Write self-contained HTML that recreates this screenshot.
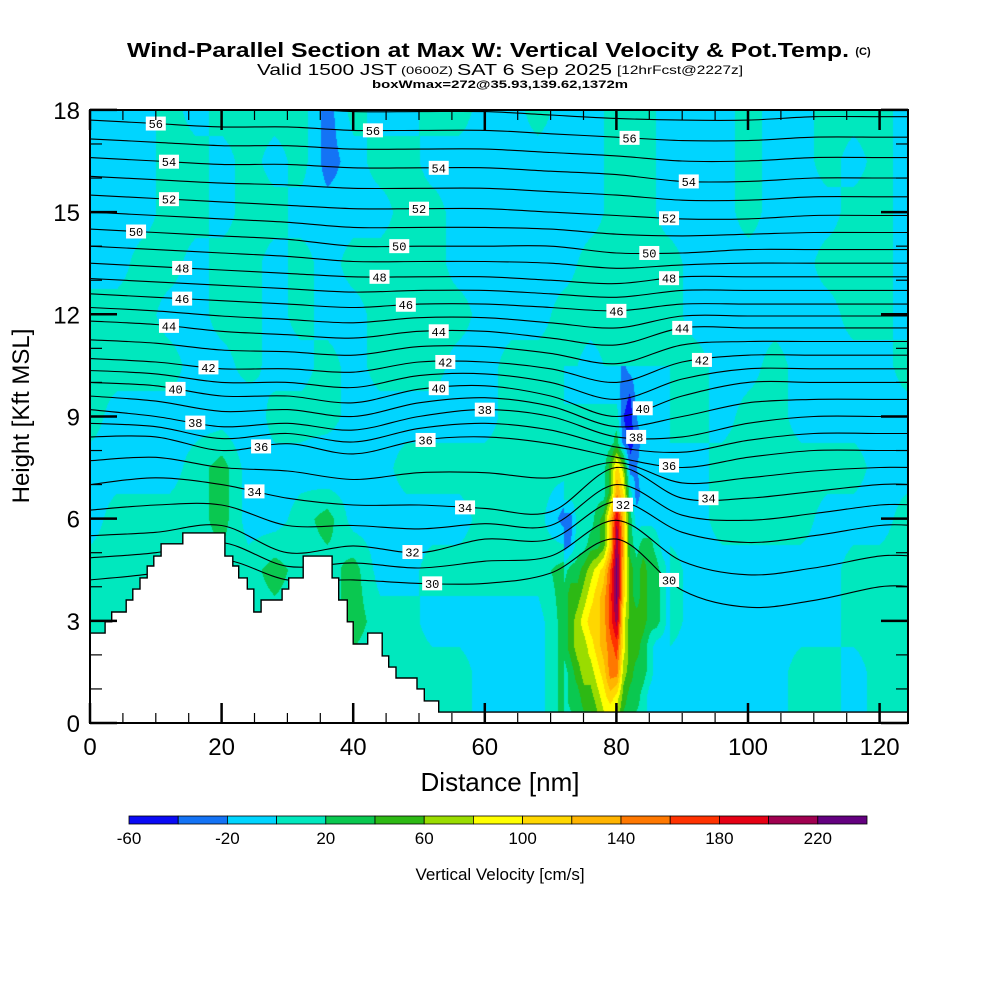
<!DOCTYPE html>
<html><head><meta charset="utf-8"><style>
html,body{margin:0;padding:0;background:#fff;}
#wrap{position:relative;width:1000px;height:1000px;overflow:hidden;font-family:"Liberation Sans",sans-serif;}
#field{position:absolute;left:90px;top:110px;}
#ov{position:absolute;left:0;top:0;}
</style></head><body>
<div id="wrap">
<canvas id="field" width="818" height="613"></canvas>
<svg id="ov" width="1000" height="1000" xmlns="http://www.w3.org/2000/svg">
<defs><clipPath id="plotclip"><rect x="90" y="110" width="818" height="613"/></clipPath></defs>
<g id="contours" clip-path="url(#plotclip)"></g>
<g id="terrain" clip-path="url(#plotclip)"></g>
<g id="clabels"></g>
<g id="ticks"></g>
<rect x="90" y="110" width="818" height="613" fill="none" stroke="#000" stroke-width="2"/>
<g id="axlabels"></g>
<text x="488" y="57" font-size="20" font-weight="bold" text-anchor="middle" textLength="722" lengthAdjust="spacingAndGlyphs">Wind-Parallel Section at Max W: Vertical Velocity &amp; Pot.Temp.</text>
<text x="863" y="55" font-size="11" font-weight="bold" text-anchor="middle">(C)</text>
<text x="257" y="75" font-size="16" textLength="140" lengthAdjust="spacingAndGlyphs">Valid 1500 JST</text>
<text x="401" y="74" font-size="11" textLength="52" lengthAdjust="spacingAndGlyphs">(0600Z)</text>
<text x="457" y="75" font-size="16" textLength="155" lengthAdjust="spacingAndGlyphs">SAT 6 Sep 2025</text>
<text x="617" y="74" font-size="12" textLength="126" lengthAdjust="spacingAndGlyphs">[12hrFcst@2227z]</text>
<text x="500" y="88" font-size="11" font-weight="bold" text-anchor="middle" textLength="256" lengthAdjust="spacingAndGlyphs">boxWmax=272@35.93,139.62,1372m</text>
<text x="500" y="791" font-size="26" text-anchor="middle">Distance [nm]</text>
<text transform="translate(29,416) rotate(-90)" font-size="24" text-anchor="middle">Height [Kft MSL]</text>
<g id="cbar"></g>
<text x="500" y="880" font-size="17" text-anchor="middle">Vertical Velocity [cm/s]</text>
</svg>
</div>
<script>
// ---------- data ----------
const wColors = ["#0a0af5","#1473f5","#00d5ff","#00e8be","#0ac850","#2db914","#9adc00","#ffff00","#ffd700","#ffb400","#ff7800","#ff3200","#e60014","#a00050","#640080"];
const wBoundsLabels = ["-60","-20","20","60","100","140","180","220"];
const wLabelValues = [-60,-20,20,60,100,140,180,220];
// main W grid (cm/s): columns x=0..124 step 4 nm, rows listed from 18 kft down to 0 kft step 1.5
const wMain = [
[-10,-10,-10,10,-10,10,10,10,10,-30,10,-10,-10,10,10,-10,-10,10,-10,-10,10,10,-10,-10,-10,10,-10,-10,10,10,10,-10],
[-10,-10,-10,10,10,-10,10,-10,10,-30,-10,10,10,-10,-10,-10,-10,-10,-10,-10,10,10,-10,-10,-10,10,-10,-10,10,-10,10,-10],
[-10,-10,-10,10,10,-10,10,10,-10,-10,-10,-10,10,10,-10,-10,-10,-10,-10,-10,10,10,-10,-10,-10,10,-10,-10,-10,10,10,-10],
[-10,-10,10,10,-10,10,10,-10,10,-10,10,10,10,10,-10,-10,-10,-10,-10,10,10,10,10,-10,-10,-10,-10,-10,10,10,10,-10],
[10,10,10,-10,-10,10,10,-10,10,-10,-10,10,10,10,10,-10,-10,-10,10,10,10,10,10,-10,-10,-10,-10,-10,-10,10,10,-10],
[10,10,10,10,-10,-10,10,-10,-10,10,-10,10,10,10,-10,-10,10,10,10,-10,10,10,10,10,-10,-10,10,-10,-10,-10,-10,10],
[10,-10,-10,-10,-10,-10,-20,10,10,10,-10,-10,-10,-10,-10,-10,10,10,10,10,-10,-10,10,10,-10,10,10,-10,-10,-10,-10,-10],
[-10,-10,-10,-10,10,30,-10,-10,-10,-20,-10,-10,10,10,10,10,10,10,10,10,10,-10,-10,-10,10,10,10,10,10,10,-10,-10],
[-10,10,10,10,10,30,-10,-10,10,30,-10,-10,-10,-10,-10,10,10,10,-30,10,10,-10,-10,-10,10,10,10,10,-10,-10,-10,10],
[10,10,10,10,10,10,10,30,10,10,30,-10,-10,10,10,10,10,10,30,30,10,30,10,-10,-10,-10,-10,-10,-10,10,10,10],
[10,10,10,10,10,10,10,10,10,10,30,10,10,-10,-10,-10,-10,-10,30,30,30,30,10,-10,-10,-10,-10,-10,-10,10,10,10],
[10,10,10,10,10,10,10,10,10,10,10,10,10,10,10,-10,-10,-10,30,30,30,30,-10,-10,-10,-10,-10,10,10,-10,10,10],
[10,10,10,10,10,10,10,10,10,10,10,10,10,10,10,-10,-10,-10,30,30,30,30,-10,-10,-10,-10,-10,10,10,-10,10,10]
];
// updraft sub-grid: x=72..88 step 1 nm, rows from 0 kft up to 10.5 kft step 0.75
const wCore = [
[10,10,30,30,30,50,70,70,70,30,30,10,10,-10,-10,-10,-10],
[10,30,30,50,50,70,90,110,90,50,30,30,10,-10,-10,-10,-10],
[10,30,50,70,70,90,110,150,150,70,50,30,30,10,-10,-10,-10],
[30,50,70,70,90,110,130,150,170,90,50,50,30,10,-10,-10,-10],
[30,50,70,90,110,110,130,170,210,90,50,50,50,30,30,10,-10],
[30,50,50,70,90,110,130,170,230,110,50,30,50,30,30,10,-10],
[10,30,30,50,70,90,110,160,230,120,50,30,50,30,30,10,-10],
[-30,-20,10,10,30,30,50,110,220,130,30,10,30,30,10,-10,-10],
[-30,-30,10,10,10,30,50,120,200,120,30,-10,-10,-10,-10,-10,-10],
[10,10,10,10,10,10,10,50,140,100,10,-30,-10,-10,-10,-10,-10],
[10,10,10,10,10,10,10,50,110,70,-30,-20,-10,-10,-10,-10,-10],
[10,10,10,10,10,10,10,10,30,-30,-50,-30,-10,-10,-10,-10,-10],
[10,10,10,10,10,10,10,10,10,-40,-50,-20,-10,-10,-10,-10,-10],
[-10,-10,-10,-10,-10,-10,-10,-10,-10,-30,-40,-10,-10,-10,-10,-10,-10],
[-10,-10,-10,-10,-10,-10,-10,-10,-10,-25,-10,-10,-10,-10,-10,-10,-10]
];
// potential temperature isentrope heights (kft) at x = 0,10,...,120 nm
const thetaX = [0,10,20,30,40,50,60,70,80,90,100,110,120];
const thetaLevels = [30,32,34,36,38,40,42,44,46,48,50,52,54,56];
const theta30 = [4.2,4.4,4.8,4.2,4.2,4.1,4.1,4.4,5.4,3.9,3.4,3.6,4.0];
const theta32 = [5.5,5.6,5.8,5.0,5.2,5.0,5.4,5.4,6.5,5.6,5.3,5.5,5.8];
const theta34 = [7.0,7.2,7.0,6.6,6.4,6.4,6.3,6.2,7.5,6.6,6.6,6.8,7.0];
const theta36 = [8.4,8.4,8.0,8.2,7.9,8.3,8.4,8.2,7.8,7.5,7.8,8.0,8.0];
const theta38 = [9.2,9.0,8.7,8.8,8.6,9.0,9.2,9.0,8.4,8.4,8.8,9.0,9.0];
const theta40 = [10.0,9.9,9.6,9.6,9.4,9.8,9.9,9.6,9.0,9.6,10.0,10.0,10.0];
const theta42 = [10.7,10.6,10.4,10.4,10.3,10.6,10.6,10.4,10.0,10.6,10.8,10.8,10.8];
const theta44 = [11.8,11.7,11.5,11.4,11.3,11.5,11.5,11.3,11.1,11.6,11.6,11.6,11.6];
const theta46 = [12.6,12.5,12.4,12.3,12.2,12.3,12.3,12.2,12.1,12.3,12.3,12.3,12.3];
const theta48 = [13.5,13.4,13.3,13.2,13.1,13.1,13.1,13.0,12.9,13.1,13.1,13.1,13.1];
const theta50 = [14.5,14.4,14.3,14.2,14.0,14.0,14.0,14.0,13.8,13.8,13.9,13.9,13.9];
const theta52 = [15.5,15.4,15.3,15.2,15.1,15.1,15.1,15.0,14.9,14.8,14.8,14.9,14.9];
const theta54 = [16.6,16.5,16.4,16.4,16.3,16.3,16.3,16.2,16.1,15.9,15.9,16.0,16.0];
const theta56 = [17.7,17.6,17.5,17.5,17.4,17.4,17.4,17.3,17.2,17.1,17.1,17.2,17.2];
const thetaLabelX = [[52,88],[49,81],[25,57,94],[26,51,88],[16,60,83],[13,53,84],[18,54,93],[12,53,90],[14,48,80],[14,44,88],[7,47,85],[12,50,88],[12,53,91],[10,43,82]];
// terrain steps: [start distance nm, height kft]
const terrainSteps = [[0,2.64],[2.3,2.97],[3.3,3.26],[5.5,3.61],[6.5,3.93],[7.6,4.26],[8.7,4.61],[9.7,4.90],[10.8,5.26],[14.1,5.58],[20.5,4.90],[21.7,4.61],[22.6,4.26],[23.9,3.93],[24.9,3.26],[26.0,3.61],[29.2,3.93],[30.2,4.26],[32.4,4.90],[36.8,4.26],[37.8,3.61],[39.1,2.97],[40.0,2.32],[42.2,2.64],[44.4,1.97],[45.4,1.64],[46.5,1.32],[49.7,1.0],[50.8,0.65],[53.0,0.32]];
const xTickLabels = [0,20,40,60,80,100,120];
const yTickLabels = [0,3,6,9,12,15,18];

// ---------- axes ----------
const X0=90, Y0=723, PXNM=6.58, PXKFT=34.06, XMAX=124.3;
const sx = x => X0 + x*PXNM;
const sy = y => Y0 - y*PXKFT;
const NS="http://www.w3.org/2000/svg";
function mk(tag, attrs, parent){const e=document.createElementNS(NS,tag);for(const k in attrs)e.setAttribute(k,attrs[k]);parent.appendChild(e);return e;}

// ---------- field ----------
function bil(grid, fx, fy, nx, ny, rowOf){
  fx=Math.max(0,Math.min(nx-1,fx)); fy=Math.max(0,Math.min(ny-1,fy));
  const i=Math.min(nx-2,Math.floor(fx)), j=Math.min(ny-2,Math.floor(fy));
  const tx=fx-i, ty=fy-j;
  const r0=rowOf(j), r1=rowOf(j+1);
  const a=r0[i]*(1-tx)+r0[i+1]*tx, b=r1[i]*(1-tx)+r1[i+1]*tx;
  return a*(1-ty)+b*ty;
}
function wAt(x,y){
  if(x>=72 && x<=88 && y<=10.5){
    return bil(wCore, x-72, y/0.75, 17, wCore.length, j=>wCore[j]);
  }
  return bil(wMain, x/4, y/1.5, 32, 13, j=>wMain[12-j]);
}
function hexRGB(h){return [parseInt(h.substr(1,2),16),parseInt(h.substr(3,2),16),parseInt(h.substr(5,2),16)];}
const rgbList = wColors.map(hexRGB);
(function(){
  const cv=document.getElementById('field'), ctx=cv.getContext('2d');
  const W=cv.width,H=cv.height, img=ctx.createImageData(W,H);
  for(let j=0;j<H;j++){
    const y=(H-j)/PXKFT;
    for(let i=0;i<W;i++){
      const x=i/PXNM;
      const v=wAt(x,y);
      let k=Math.floor((v+60)/20); if(k<0)k=0; if(k>14)k=14;
      const c=rgbList[k], p=(j*W+i)*4;
      img.data[p]=c[0];img.data[p+1]=c[1];img.data[p+2]=c[2];img.data[p+3]=255;
    }
  }
  ctx.putImageData(img,0,0);
})();

// ---------- contours ----------
const thetaRows = [theta30,theta32,theta34,theta36,theta38,theta40,theta42,theta44,theta46,theta48,theta50,theta52,theta54,theta56];
function smoothPath(pts){
  let d="M"+pts[0][0].toFixed(1)+","+pts[0][1].toFixed(1);
  for(let i=0;i<pts.length-1;i++){
    const p0=pts[Math.max(0,i-1)],p1=pts[i],p2=pts[i+1],p3=pts[Math.min(pts.length-1,i+2)];
    const c1=[p1[0]+(p2[0]-p0[0])/6,p1[1]+(p2[1]-p0[1])/6];
    const c2=[p2[0]-(p3[0]-p1[0])/6,p2[1]-(p3[1]-p1[1])/6];
    d+="C"+c1[0].toFixed(1)+","+c1[1].toFixed(1)+" "+c2[0].toFixed(1)+","+c2[1].toFixed(1)+" "+p2[0].toFixed(1)+","+p2[1].toFixed(1);
  }
  return d;
}
function linePts(hs){
  const pts=thetaX.map((x,i)=>[sx(x),sy(hs[i])]);
  pts.push([sx(XMAX+1),sy(hs[hs.length-1])]);
  return pts;
}
const cg=document.getElementById('contours');
thetaRows.forEach((hs,li)=>{
  const p=mk('path',{d:smoothPath(linePts(hs)),fill:'none',stroke:'#000','stroke-width':1.1},cg);
  
  
  if(li<thetaRows.length-1){
    const mid=hs.map((h,i)=>(h+thetaRows[li+1][i])/2);
    const q=mk('path',{d:smoothPath(linePts(mid)),fill:'none',stroke:'#000','stroke-width':1.1},cg);
    
    
  }
});
{
  const top=theta56.map((h,i)=>h+(h-theta54[i])/2);
  const q=mk('path',{d:smoothPath(linePts(top)),fill:'none',stroke:'#000','stroke-width':1.1},cg);
  
  
}

// ---------- terrain ----------
(function(){
  let d="M"+sx(0)+","+(Y0+2);
  terrainSteps.forEach((s,i)=>{
    const x1=i+1<terrainSteps.length?terrainSteps[i+1][0]:XMAX+1;
    d+=" L"+sx(s[0]).toFixed(1)+","+sy(s[1]).toFixed(1)+" L"+sx(x1).toFixed(1)+","+sy(s[1]).toFixed(1);
  });
  d+=" L"+sx(XMAX+1)+","+(Y0+2)+" Z";
  const t=mk('path',{d:d,fill:'#fff',stroke:'#000','stroke-width':1.4},document.getElementById('terrain'));
  
  
})();

// ---------- contour labels ----------
function interpH(hs,x){
  for(let i=0;i<thetaX.length-1;i++){if(x<=thetaX[i+1]){const t=(x-thetaX[i])/(thetaX[i+1]-thetaX[i]);return hs[i]*(1-t)+hs[i+1]*t;}}
  return hs[hs.length-1];
}
const lg=document.getElementById('clabels');
thetaLabelX.forEach((xs,li)=>{
  xs.forEach(x=>{
    const px=sx(x), py=sy(interpH(thetaRows[li],x));
    const g=mk('g',{},lg);
    
    
    mk('rect',{x:px-10,y:py-7,width:20,height:14,fill:'#fff'},g);
    const t=mk('text',{x:px,y:py+4.5,'font-size':12,'text-anchor':'middle','font-family':'Liberation Mono, monospace'},g);
    t.textContent=String(thetaLevels[li]);
  });
});

// ---------- ticks ----------
const tg=document.getElementById('ticks');
for(let x=0;x<=XMAX;x+=5){
  const L=(x%20===0)?20:10;
  mk('line',{x1:sx(x),y1:Y0,x2:sx(x),y2:Y0-L,stroke:'#000','stroke-width':x%20===0?2.5:1.2},tg);
  mk('line',{x1:sx(x),y1:110,x2:sx(x),y2:110+L,stroke:'#000','stroke-width':x%20===0?2.5:1.2},tg);
}
for(let y=0;y<=18;y+=1){
  const L=(y%3===0)?27:12;
  mk('line',{x1:X0,y1:sy(y),x2:X0+L,y2:sy(y),stroke:'#000','stroke-width':y%3===0?2.5:1.2},tg);
  mk('line',{x1:908,y1:sy(y),x2:908-L,y2:sy(y),stroke:'#000','stroke-width':y%3===0?2.5:1.2},tg);
}
const ag=document.getElementById('axlabels');
xTickLabels.forEach(v=>{
  const t=mk('text',{x:sx(v),y:755,'font-size':24,'text-anchor':'middle'},ag);
  
  
  t.textContent=String(v);
});
yTickLabels.forEach(v=>{
  const t=mk('text',{x:80,y:sy(v)+9,'font-size':24,'text-anchor':'end'},ag);
  
  
  t.textContent=String(v);
});

// ---------- colorbar ----------
const cb=document.getElementById('cbar');
const CBX=129, CBW=49.2, cbx=v=>CBX+(v+60)/20*CBW;
wColors.forEach((c,i)=>{
  const r=mk('rect',{x:CBX+i*CBW,y:816,width:CBW,height:8,fill:c,stroke:'#000','stroke-width':0.8},cb);
  
  
});
wLabelValues.forEach((v,i)=>{
  const t=mk('text',{x:cbx(v),y:844,'font-size':17,'text-anchor':'middle'},cb);
  
  
  t.textContent=wBoundsLabels[i];
});
</script>
</body></html>
